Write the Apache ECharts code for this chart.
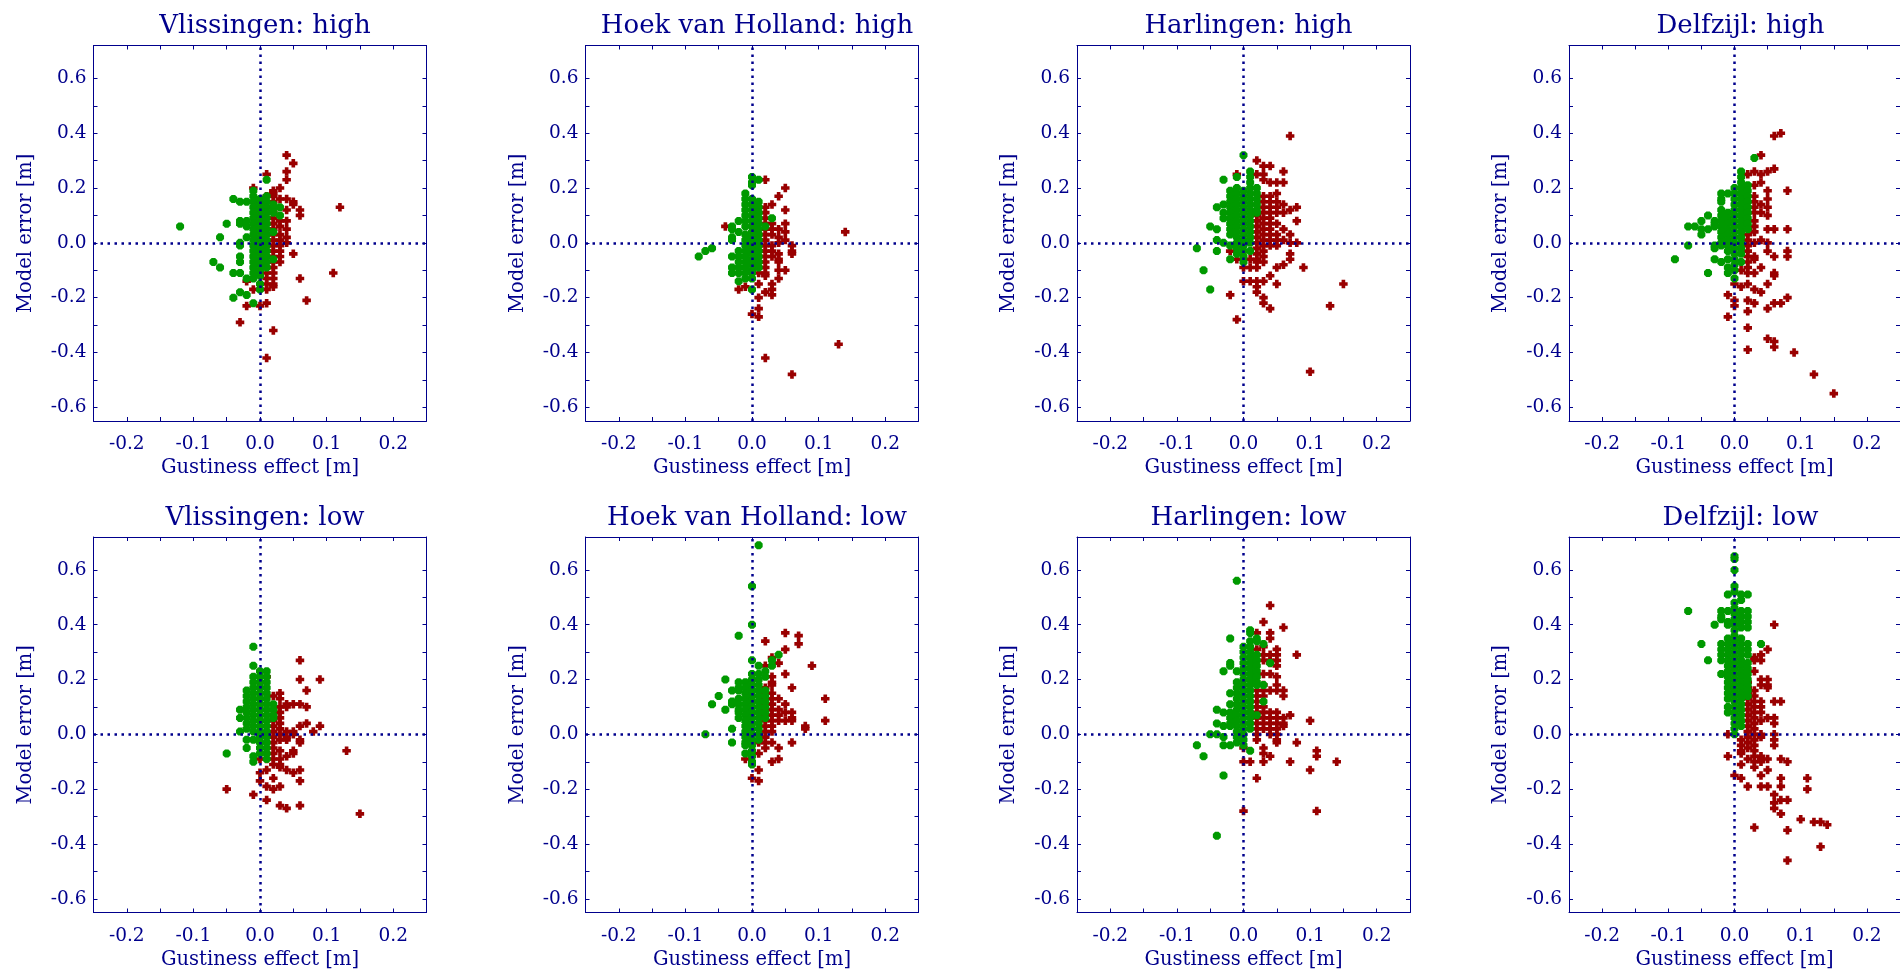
<!DOCTYPE html>
<html>
<head>
<meta charset="utf-8">
<title>Gustiness effect vs model error</title>
<script src="https://cdn.jsdelivr.net/npm/echarts@6.0.0/dist/echarts.min.js"></script>
<style>
  html, body { margin: 0; padding: 0; background: #fff; }
  #chart { width: 1900px; height: 973px; }
</style>
</head>
<body>
<div id="chart"></div>
<script>
// panel titles, top row (high water) then bottom row (low water)
const panelTitles = [
    'Vlissingen: high', 'Hoek van Holland: high', 'Harlingen: high', 'Delfzijl: high',
    'Vlissingen: low', 'Hoek van Holland: low', 'Harlingen: low', 'Delfzijl: low'
];

// tick marks and tick labels
const xTickValues = [-0.2, -0.15, -0.1, -0.05, 0, 0.05, 0.1, 0.15, 0.2];
const xLabelValues = [-0.2, -0.1, 0, 0.1, 0.2];
const yTickValues = [-0.6, -0.5, -0.4, -0.3, -0.2, -0.1, 0, 0.1, 0.2, 0.3, 0.4, 0.5, 0.6];
const yLabelValues = [-0.6, -0.4, -0.2, 0, 0.2, 0.4, 0.6];

// data: each row is [gustiness effect, [model errors ...]]
const vlisHighGreen = [
    [-0.12, [0.06]], [-0.07, [-0.07]], [-0.06, [0.02, -0.09]], [-0.05, [0.07]],
    [-0.04, [0.16, -0.11, -0.20]],
    [-0.03, [0.15, 0.08, 0.07, 0.00, -0.01, -0.05, -0.07, -0.11, -0.18]],
    [-0.02, [0.15, 0.08, 0.06, 0.02, -0.13, -0.19]],
    [-0.01, [0.19, 0.17, 0.15, 0.13, 0.11, 0.09, 0.07, 0.05, 0.03, 0.01, -0.01, -0.03, -0.05, -0.07, -0.09, -0.11, -0.13, -0.22]],
    [0, [0.16, 0.14, 0.12, 0.10, 0.08, 0.06, 0.04, 0.02, 0.00, -0.02, -0.04, -0.06, -0.08, -0.10, -0.12, -0.15, -0.17]],
    [0.01, [0.23, 0.17, 0.15, 0.13, 0.11, 0.09, 0.07, 0.05, 0.03, 0.01, -0.01, -0.03, -0.05, -0.07, -0.09]],
    [0.02, [0.14, 0.12, 0.11, 0.04, -0.06]],
    [0.03, [0.13, 0.10]]
];
const vlisHighRed = [
    [-0.03, [-0.29]], [-0.02, [-0.14, -0.23]], [-0.01, [0.20, -0.17]], [0, [-0.23]],
    [0.01, [0.25, 0.17, 0.15, 0.13, 0.11, 0.09, 0.07, 0.05, 0.03, 0.01, -0.01, -0.03, -0.05, -0.07, -0.09, -0.11, -0.13, -0.15, -0.17, -0.22, -0.42]],
    [0.02, [0.19, 0.18, 0.17, 0.15, 0.13, 0.11, 0.09, 0.07, 0.05, 0.03, 0.01, -0.01, -0.03, -0.05, -0.07, -0.09, -0.11, -0.13, -0.15, -0.16, -0.32]],
    [0.03, [0.20, 0.16, 0.08, 0.06, 0.03, 0.01, -0.01, -0.03, -0.05, -0.07]],
    [0.04, [0.32, 0.26, 0.23, 0.16, 0.12, 0.08, 0.05, 0.02, 0.00]],
    [0.05, [0.29, 0.15, 0.14, -0.04]],
    [0.06, [0.12, 0.10, -0.13]],
    [0.07, [-0.21]], [0.11, [-0.11]], [0.12, [0.13]]
];

const hoekHighGreen = [
    [-0.08, [-0.05]], [-0.07, [-0.03]], [-0.06, [-0.02]],
    [-0.03, [0.06, 0.05, 0.02, 0.01, -0.05, -0.09, -0.11]],
    [-0.02, [0.08, 0.04, -0.03, -0.05, -0.07, -0.09, -0.11, -0.14]],
    [-0.01, [0.18, 0.16, 0.14, 0.12, 0.10, 0.08, 0.06, 0.03, 0.01, -0.01, -0.03, -0.05, -0.07, -0.09, -0.11, -0.13]],
    [0, [0.24, 0.22, 0.21, 0.16, 0.14, 0.12, 0.10, 0.08, 0.06, 0.04, 0.02, 0.00, -0.02, -0.04, -0.06, -0.08, -0.10, -0.11, -0.13, -0.17]],
    [0.01, [0.23, 0.15, 0.13, 0.11, 0.09, 0.07, 0.05, 0.03, 0.01, -0.01, -0.03, -0.05, -0.07, -0.09]],
    [0.02, [0.06]], [0.03, [0.09]]
];
const hoekHighRed = [
    [-0.04, [0.06]], [-0.02, [-0.17]], [-0.01, [-0.16]], [0, [-0.26]],
    [0.01, [0.05, 0.03, 0.01, -0.01, -0.03, -0.05, -0.07, -0.09, -0.11, -0.15, -0.20, -0.24, -0.27]],
    [0.02, [0.23, 0.13, 0.11, 0.09, 0.07, 0.05, 0.03, 0.01, -0.01, -0.03, -0.05, -0.07, -0.09, -0.11, -0.12, -0.18, -0.42]],
    [0.03, [0.14, 0.07, 0.05, 0.03, -0.01, -0.03, -0.05, -0.15, -0.17, -0.19]],
    [0.04, [0.17, 0.05, 0.02, 0.00, -0.04, -0.06, -0.07, -0.10, -0.13]],
    [0.05, [0.20, 0.12, 0.07, 0.04, 0.01, -0.10]],
    [0.06, [-0.01, -0.03, -0.04, -0.48]],
    [0.13, [-0.37]], [0.14, [0.04]]
];

const harlHighGreen = [
    [-0.07, [-0.02]], [-0.06, [-0.10]], [-0.05, [0.06, -0.17]],
    [-0.04, [0.13, 0.05, 0.01, -0.03]],
    [-0.03, [0.23, 0.14, 0.11, 0.09, 0.00]],
    [-0.02, [0.19, 0.17, 0.15, 0.13, 0.11, 0.09, 0.07, 0.05, 0.03, -0.01, -0.06]],
    [-0.01, [0.24, 0.20, 0.18, 0.16, 0.14, 0.12, 0.10, 0.08, 0.06, 0.04, 0.02, 0.00, -0.02, -0.04]],
    [0, [0.32, 0.19, 0.17, 0.15, 0.13, 0.11, 0.09, 0.07, 0.05, 0.03, 0.01, -0.01, -0.03, -0.05, -0.07]],
    [0.01, [0.26, 0.24, 0.22, 0.20, 0.18, 0.16, 0.14, 0.12, 0.10, 0.08, 0.06, 0.04, 0.02, 0.00, -0.03]],
    [0.02, [0.20, 0.18, 0.16, 0.14, 0.12, 0.11]]
];
const harlHighRed = [
    [-0.02, [-0.03, -0.19]], [-0.01, [0.25, -0.06, -0.28]], [0, [-0.09, -0.14]],
    [0.01, [-0.06, -0.09, -0.14]],
    [0.02, [0.30, 0.25, 0.10, 0.08, 0.06, 0.04, 0.02, 0.00, -0.02, -0.04, -0.06, -0.07, -0.09, -0.14, -0.16, -0.18]],
    [0.03, [0.28, 0.25, 0.23, 0.17, 0.15, 0.13, 0.11, 0.09, 0.07, 0.05, 0.03, 0.01, -0.01, -0.03, -0.05, -0.07, -0.14, -0.20, -0.22]],
    [0.04, [0.28, 0.22, 0.17, 0.15, 0.13, 0.11, 0.09, 0.07, 0.05, 0.03, 0.01, -0.01, -0.12, -0.24]],
    [0.05, [0.22, 0.18, 0.15, 0.13, 0.11, 0.07, 0.03, 0.01, -0.01, -0.09, -0.15]],
    [0.06, [0.26, 0.22, 0.14, 0.11, 0.05, 0.01, -0.08]],
    [0.07, [0.39, 0.12, 0.03, 0.00, -0.04, -0.06]],
    [0.08, [0.13, 0.08, 0.00]],
    [0.09, [-0.09]], [0.10, [-0.47]], [0.13, [-0.23]], [0.15, [-0.15]]
];

const delfHighGreen = [
    [-0.09, [-0.06]], [-0.07, [0.06, -0.01]], [-0.06, [0.06]],
    [-0.05, [0.08, 0.05, 0.03]],
    [-0.04, [0.10, 0.05, -0.11]],
    [-0.03, [0.08, 0.07, 0.06, -0.01, -0.02, -0.06]],
    [-0.02, [0.18, 0.16, 0.15, 0.12, 0.10, 0.08, 0.06, 0.04, 0.02, 0.00, -0.01, -0.07]],
    [-0.01, [0.18, 0.11, 0.09, 0.07, 0.05, 0.03, 0.01, -0.01, -0.03, -0.06, -0.09, -0.11]],
    [0, [0.20, 0.18, 0.16, 0.14, 0.12, 0.10, 0.08, 0.06, 0.04, 0.02, 0.00, -0.02, -0.04, -0.06, -0.08, -0.10, -0.13]],
    [0.01, [0.26, 0.24, 0.22, 0.20, 0.18, 0.16, 0.14, 0.12, 0.10, 0.08, 0.06, 0.04, 0.02, 0.00, -0.02, -0.04, -0.07]],
    [0.02, [0.21, 0.19, 0.17, 0.15, 0.13, 0.11, 0.09, 0.07, 0.05]],
    [0.03, [0.31]]
];
const delfHighRed = [
    [-0.01, [-0.19, -0.27]], [0, [-0.15, -0.21, -0.23]], [0.01, [-0.10, -0.16]],
    [0.02, [0.25, 0.05, 0.03, 0.01, -0.01, -0.03, -0.05, -0.07, -0.09, -0.11, -0.15, -0.21, -0.25, -0.31, -0.39]],
    [0.03, [0.26, 0.21, 0.17, 0.15, 0.13, 0.11, 0.08, 0.06, 0.04, 0.00, -0.05, -0.06, -0.11, -0.17, -0.22]],
    [0.04, [0.32, 0.25, 0.22, 0.14, 0.11, 0.01, -0.09, -0.18]],
    [0.05, [0.26, 0.19, 0.16, 0.13, 0.10, 0.05, 0.00, -0.03, -0.15, -0.24, -0.35]],
    [0.06, [0.39, 0.27, 0.05, -0.05, -0.11, -0.12, -0.22, -0.36, -0.38]],
    [0.07, [0.40, -0.22]],
    [0.08, [0.19, 0.05, -0.03, -0.05, -0.20]],
    [0.09, [-0.40]], [0.12, [-0.48]], [0.15, [-0.55]]
];

const vlisLowGreen = [
    [-0.05, [-0.07]],
    [-0.03, [0.09, 0.06, 0.01]],
    [-0.02, [0.16, 0.14, 0.12, 0.10, 0.08, 0.06, 0.04, 0.02, -0.02, -0.05]],
    [-0.01, [0.32, 0.25, 0.21, 0.19, 0.17, 0.15, 0.13, 0.11, 0.09, 0.07, 0.05, 0.03, 0.01, -0.02, -0.08, -0.10]],
    [0, [0.23, 0.21, 0.19, 0.17, 0.15, 0.13, 0.11, 0.09, 0.07, 0.05, 0.03, 0.01, -0.01, -0.03, -0.05, -0.07]],
    [0.01, [0.23, 0.21, 0.19, 0.17, 0.15, 0.13, 0.11, 0.09, 0.07, 0.05, 0.03, 0.01, -0.01, -0.03, -0.05, -0.07, -0.09]],
    [0.02, [0.11, 0.09, 0.07, 0.06]]
];
const vlisLowRed = [
    [-0.05, [-0.20]], [-0.01, [-0.22]], [0, [-0.09, -0.14, -0.17]],
    [0.01, [0.21, -0.09, -0.13, -0.19, -0.24]],
    [0.02, [0.14, 0.09, 0.07, 0.05, 0.03, 0.01, -0.01, -0.03, -0.05, -0.07, -0.09, -0.11, -0.16, -0.20]],
    [0.03, [0.15, 0.13, 0.10, 0.08, 0.06, 0.04, 0.02, 0.00, -0.02, -0.06, -0.09, -0.11, -0.12, -0.19, -0.26]],
    [0.04, [0.11, 0.10, 0.01, -0.01, -0.02, -0.08, -0.13, -0.27]],
    [0.05, [0.11, 0.01, 0.00, -0.06, -0.07, -0.14]],
    [0.06, [0.27, 0.20, 0.11, 0.03, -0.02, -0.03, -0.13, -0.17, -0.26]],
    [0.07, [0.16, 0.10, 0.04]],
    [0.08, [0.01]], [0.09, [0.20, 0.03]], [0.13, [-0.06]], [0.15, [-0.29]]
];

const hoekLowGreen = [
    [-0.07, [0.00]], [-0.06, [0.11]], [-0.05, [0.14]], [-0.04, [0.20, 0.09]],
    [-0.03, [0.16, 0.12, 0.11, 0.02, -0.03]],
    [-0.02, [0.36, 0.19, 0.17, 0.16, 0.13, 0.11, 0.09, 0.08, 0.06]],
    [-0.01, [0.19, 0.17, 0.15, 0.13, 0.11, 0.09, 0.07, 0.05, 0.03, 0.01, -0.01, -0.03, -0.04, -0.07]],
    [0, [0.54, 0.40, 0.27, 0.22, 0.20, 0.18, 0.16, 0.14, 0.12, 0.10, 0.08, 0.06, 0.04, 0.02, 0.00, -0.02, -0.04, -0.06, -0.08, -0.10, -0.11]],
    [0.01, [0.69, 0.25, 0.22, 0.20, 0.18, 0.16, 0.14, 0.12, 0.10, 0.08, 0.06, 0.04, 0.02, 0.00, -0.02]],
    [0.02, [0.23, 0.21, 0.16, 0.14, 0.12, 0.10, 0.08, 0.06]],
    [0.03, [0.27, 0.25]], [0.04, [0.29]]
];
const hoekLowRed = [
    [-0.01, [-0.09]], [0, [-0.16]],
    [0.01, [0.00, -0.02, -0.03, -0.07, -0.13, -0.17]],
    [0.02, [0.34, 0.25, 0.17, 0.15, 0.13, 0.11, 0.09, 0.07, 0.05, 0.03, 0.01, -0.01, -0.03, -0.05]],
    [0.03, [0.28, 0.21, 0.19, 0.18, 0.15, 0.13, 0.11, 0.09, 0.07, 0.05, 0.03, 0.01, -0.03, -0.10]],
    [0.04, [0.26, 0.13, 0.09, 0.07, 0.05, -0.05, -0.09]],
    [0.05, [0.37, 0.31, 0.22, 0.11, 0.08, 0.05]],
    [0.06, [0.17, 0.08, 0.06, 0.05, -0.03]],
    [0.07, [0.36, 0.33]], [0.08, [0.03, 0.02]], [0.09, [0.25]], [0.11, [0.13, 0.05]]
];

const harlLowGreen = [
    [-0.07, [-0.04]], [-0.06, [-0.08]], [-0.05, [0.00]],
    [-0.04, [0.09, 0.04, 0.00, -0.37]],
    [-0.03, [0.23, 0.08, 0.03, -0.01, -0.04, -0.15]],
    [-0.02, [0.35, 0.26, 0.25, 0.15, 0.11, 0.08, 0.06, 0.04, 0.03, -0.04]],
    [-0.01, [0.56, 0.23, 0.19, 0.17, 0.15, 0.13, 0.11, 0.09, 0.07, 0.05, 0.03, 0.01, -0.01, -0.03]],
    [0, [0.32, 0.30, 0.28, 0.26, 0.24, 0.22, 0.20, 0.18, 0.16, 0.14, 0.12, 0.10, 0.08, 0.06, 0.04, 0.02, 0.00, -0.02, -0.04]],
    [0.01, [0.38, 0.37, 0.34, 0.32, 0.30, 0.28, 0.26, 0.24, 0.22, 0.20, 0.18, 0.16, 0.14, 0.12, 0.10, 0.08, 0.06, 0.04, 0.02, -0.06]],
    [0.02, [0.35, 0.34, 0.29, 0.27, 0.25, 0.23, 0.21, 0.19, 0.18, 0.07]],
    [0.03, [0.33, 0.18, 0.12]], [0.04, [0.26]]
];
const harlLowRed = [
    [0, [-0.05, -0.10, -0.28]], [0.01, [-0.10]],
    [0.02, [0.37, 0.31, 0.16, 0.14, 0.12, 0.10, 0.08, 0.06, 0.04, 0.02, 0.00, -0.02, -0.16]],
    [0.03, [0.41, 0.32, 0.29, 0.27, 0.22, 0.18, 0.16, 0.14, 0.10, 0.08, 0.06, 0.04, 0.02, -0.05, -0.07, -0.10]],
    [0.04, [0.47, 0.37, 0.35, 0.29, 0.27, 0.26, 0.22, 0.16, 0.08, 0.06, 0.04, 0.02, 0.00, -0.08]],
    [0.05, [0.31, 0.29, 0.27, 0.25, 0.21, 0.18, 0.16, 0.08, 0.06, 0.04, 0.02, 0.00, -0.02, -0.03]],
    [0.06, [0.39, 0.16, 0.14, 0.06, 0.04, 0.03]],
    [0.07, [0.07, -0.10]], [0.08, [0.29, -0.03]], [0.10, [0.05, -0.13]],
    [0.11, [-0.06, -0.08, -0.28]], [0.14, [-0.10]]
];

const delfLowGreen = [
    [-0.07, [0.45]], [-0.05, [0.33]], [-0.04, [0.27]], [-0.03, [0.40]],
    [-0.02, [0.45, 0.43, 0.42, 0.33, 0.31, 0.29, 0.27, 0.22]],
    [-0.01, [0.51, 0.45, 0.41, 0.40, 0.35, 0.33, 0.31, 0.29, 0.27, 0.25, 0.23, 0.21, 0.19, 0.17, 0.15, 0.13, 0.10, 0.08]],
    [0, [0.65, 0.64, 0.60, 0.54, 0.52, 0.48, 0.46, 0.44, 0.42, 0.40, 0.38, 0.36, 0.34, 0.32, 0.30, 0.28, 0.26, 0.24, 0.22, 0.20, 0.18, 0.16, 0.14, 0.12, 0.10, 0.08, 0.06, 0.04, 0.02, 0.00]],
    [0.01, [0.51, 0.49, 0.45, 0.43, 0.41, 0.39, 0.35, 0.33, 0.31, 0.29, 0.27, 0.25, 0.23, 0.21, 0.19, 0.17, 0.15, 0.13, 0.11, 0.09, 0.07, 0.05, 0.03]],
    [0.02, [0.51, 0.45, 0.43, 0.41, 0.39, 0.33, 0.31, 0.29, 0.26, 0.24, 0.22, 0.20, 0.18, 0.16, 0.14]],
    [0.04, [0.33]]
];
const delfLowRed = [
    [-0.01, [0.00, -0.08]], [0, [-0.15]],
    [0.01, [-0.02, -0.04, -0.06, -0.07, -0.11, -0.16]],
    [0.02, [0.19, 0.17, 0.15, 0.13, 0.11, 0.09, 0.07, 0.05, 0.03, 0.01, -0.01, -0.03, -0.05, -0.09, -0.19]],
    [0.03, [0.28, 0.27, 0.23, 0.16, 0.14, 0.12, 0.10, 0.08, 0.06, 0.04, 0.02, 0.00, -0.02, -0.04, -0.06, -0.08, -0.10, -0.12, -0.34]],
    [0.04, [0.29, 0.27, 0.20, 0.18, 0.12, 0.10, 0.08, 0.05, 0.00, -0.01, -0.08, -0.09, -0.10, -0.15, -0.19]],
    [0.05, [0.31, 0.20, 0.18, 0.17, 0.06, -0.09, -0.13, -0.19]],
    [0.06, [0.40, 0.12, 0.06, 0.04, 0.00, -0.02, -0.04, -0.22, -0.25, -0.27]],
    [0.07, [0.12, -0.09, -0.16, -0.19, -0.24, -0.29]],
    [0.08, [-0.10, -0.24, -0.35, -0.46]],
    [0.10, [-0.31]], [0.11, [-0.16, -0.20]], [0.12, [-0.32]],
    [0.13, [-0.32, -0.41]], [0.14, [-0.33]]
];

const greenSets = [vlisHighGreen, hoekHighGreen, harlHighGreen, delfHighGreen,
                   vlisLowGreen, hoekLowGreen, harlLowGreen, delfLowGreen];
const redSets = [vlisHighRed, hoekHighRed, harlHighRed, delfHighRed,
                 vlisLowRed, hoekLowRed, harlLowRed, delfLowRed];

// layout (px)
const colLeft = [93.5, 585.5, 1077, 1569];
const rowTop = [45.5, 537];
const plotW = 333;
const plotH = 375.5;

const navy = '#00008c';
const font = 'DejaVu Serif';
const plusPath = 'path://M2,0H5V2H7V5H5V7H2V5H0V2H2Z';
const octPath = 'path://M2,0H5L7,2V5L5,7H2L0,5V2Z';

function toPoints(cols) {
    var pts = [];
    cols.forEach(function (c) {
        c[1].forEach(function (y) { pts.push([c[0], y]); });
    });
    return pts;
}

function fmt(v) {
    return Number(v).toFixed(1);
}

function buildOption() {
    var titles = [], grids = [], xAxes = [], yAxes = [], series = [];

    for (var i = 0; i < 8; i++) {
        var gLeft = colLeft[i % 4];
        var gTop = rowTop[Math.floor(i / 4)];

        titles.push({
            text: panelTitles[i],
            left: gLeft + plotW / 2,
            top: gTop - 37,
            textAlign: 'center',
            textStyle: { color: navy, fontFamily: font, fontSize: 26, fontWeight: 'normal' }
        });
        grids.push({ left: gLeft, top: gTop, width: plotW, height: plotH });

        // bottom / left axes carry the labels
        xAxes.push({
            type: 'value', gridIndex: i, min: -0.25, max: 0.25,
            name: 'Gustiness effect [m]', nameLocation: 'middle', nameGap: 37,
            nameTextStyle: { color: navy, fontFamily: font, fontSize: 19.5 },
            axisLine: { onZero: false, lineStyle: { color: navy, width: 1 } },
            axisTick: { inside: true, length: 4, customValues: xTickValues, lineStyle: { color: navy } },
            axisLabel: { customValues: xLabelValues, formatter: fmt, color: navy, fontFamily: font, fontSize: 18.5, margin: 14 },
            splitLine: { show: false }
        });
        // top axis, ticks only
        xAxes.push({
            type: 'value', gridIndex: i, position: 'top', min: -0.25, max: 0.25,
            axisLine: { onZero: false, lineStyle: { color: navy, width: 1 } },
            axisTick: { inside: true, length: 4, customValues: xTickValues, lineStyle: { color: navy } },
            axisLabel: { show: false },
            splitLine: { show: false }
        });
        yAxes.push({
            type: 'value', gridIndex: i, min: -0.65, max: 0.72,
            name: 'Model error [m]', nameLocation: 'middle', nameGap: 58,
            nameTextStyle: { color: navy, fontFamily: font, fontSize: 19.5 },
            axisLine: { onZero: false, lineStyle: { color: navy, width: 1 } },
            axisTick: { inside: true, length: 4, customValues: yTickValues, lineStyle: { color: navy } },
            axisLabel: { customValues: yLabelValues, formatter: fmt, color: navy, fontFamily: font, fontSize: 18.5, margin: 7 },
            splitLine: { show: false }
        });
        yAxes.push({
            type: 'value', gridIndex: i, position: 'right', min: -0.65, max: 0.72,
            axisLine: { onZero: false, lineStyle: { color: navy, width: 1 } },
            axisTick: { inside: true, length: 4, customValues: yTickValues, lineStyle: { color: navy } },
            axisLabel: { show: false },
            splitLine: { show: false }
        });

        var ai = i * 2;

        // dotted zero lines under the points
        series.push({
            type: 'scatter', xAxisIndex: ai, yAxisIndex: ai, data: [], z: 1, silent: true,
            markLine: {
                silent: true, symbol: 'none', label: { show: false },
                lineStyle: { color: navy, width: 2.5, type: [2.5, 4.5], opacity: 1 },
                emphasis: { disabled: true },
                data: [{ xAxis: 0 }, { yAxis: 0 }]
            }
        });
        series.push({
            type: 'scatter', xAxisIndex: ai, yAxisIndex: ai, z: 2,
            data: toPoints(redSets[i]),
            symbol: plusPath, symbolSize: 8.5,
            itemStyle: { color: '#990000', opacity: 1 }
        });
        series.push({
            type: 'scatter', xAxisIndex: ai, yAxisIndex: ai, z: 3,
            data: toPoints(greenSets[i]),
            symbol: octPath, symbolSize: 8,
            itemStyle: { color: '#009900', opacity: 1 }
        });
    }

    return {
        backgroundColor: '#ffffff',
        animation: false,
        title: titles,
        grid: grids,
        xAxis: xAxes,
        yAxis: yAxes,
        series: series
    };
}

var myChart = echarts.init(document.getElementById('chart'));
myChart.setOption(buildOption());
</script>
</body>
</html>
